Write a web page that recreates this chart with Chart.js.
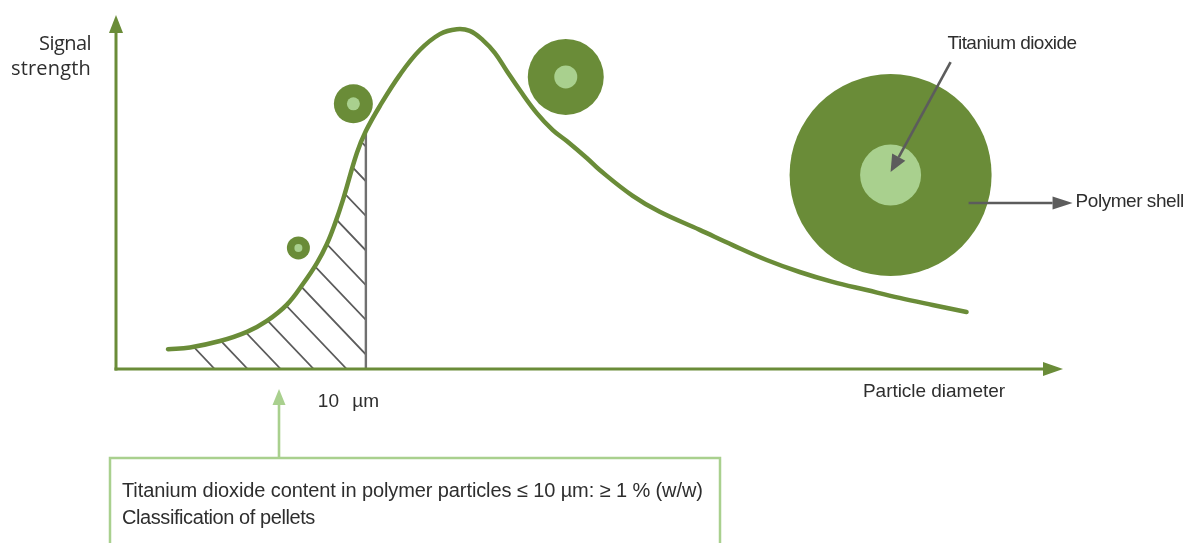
<!DOCTYPE html>
<html>
<head>
<meta charset="utf-8">
<script src="https://cdn.jsdelivr.net/npm/chart.js@4.4.1/dist/chart.umd.min.js"></script>
<style>
  html, body { margin: 0; padding: 0; background: #ffffff; overflow: hidden; }
  #wrap { position: relative; width: 1186px; height: 543px; }
</style>
</head>
<body>
<div id="wrap"><canvas id="chart" width="1186" height="543"></canvas></div>
<script>
// ---------------- data ----------------
// particle diameter in µm (schematic axis), signal strength in % of axis height
const diameter = [2.08, 2.96, 4.16, 5.24, 6.04, 6.84, 7.48, 8.04, 8.44, 8.76, 9.08, 9.64, 10.0,
                  10.56, 11.36, 12.16, 12.96, 13.64, 14.16, 14.68, 15.16, 15.64, 16.16, 16.84,
                  17.48, 18.04, 18.84, 19.36, 20.68, 21.76, 23.36, 24.68, 26.04, 27.36, 28.68,
                  30.04, 31.36, 32.68, 34.04];
const signal   = [5.6, 6.1, 7.9, 10.5, 13.6, 18.2, 24.0, 29.9, 35.3, 41.0, 47.7, 61.0, 67.2,
                  74.3, 83.1, 90.1, 94.6, 96.0, 95.5, 92.9, 89.3, 84.2, 78.8, 72.3,
                  67.5, 64.4, 59.6, 56.2, 48.9, 44.4, 39.3, 35.0, 30.8, 27.4, 24.6,
                  22.3, 20.1, 18.1, 16.1];
const thresholdDiameter = 10;          // µm, end of hatched area
const hatchFrom = 3.0;                 // µm, where the hatching starts
// illustrative particles sitting along the curve
const particleDiameter = [7.3, 9.5, 18.0, 31.0];
const particleSignal   = [34.2, 74.9, 82.5, 54.8];
// text labels
const yAxisLabel = ['Signal', 'strength'];
const xAxisLabel = 'Particle diameter';
const thresholdLabel = '10 µm';
const coreLabel = 'Titanium dioxide';
const shellLabel = 'Polymer shell';
const boxLines = ['Titanium dioxide content in polymer particles ≤ 10 µm: ≥ 1 % (w/w)',
                  'Classification of pellets'];

// ---------------- styles ----------------
const GREEN = '#6a8c38';
const LIGHT = '#a9d08e';
const GREY = '#5c5c5c';
const TEXT = '#2e2e2e';
const shellRadius = [11.5, 19.5, 38, 101];
const coreRadius  = [4, 6.5, 11.5, 30.5];

function arrow(ctx, x1, y1, x2, y2, color, lw, headLen, headW) {
  const ang = Math.atan2(y2 - y1, x2 - x1);
  const bx = x2 - headLen * Math.cos(ang), by = y2 - headLen * Math.sin(ang);
  ctx.strokeStyle = color; ctx.lineWidth = lw; ctx.lineCap = 'butt';
  ctx.beginPath(); ctx.moveTo(x1, y1); ctx.lineTo(bx, by); ctx.stroke();
  ctx.fillStyle = color;
  ctx.beginPath();
  ctx.moveTo(x2, y2);
  ctx.lineTo(bx + headW / 2 * Math.sin(ang), by - headW / 2 * Math.cos(ang));
  ctx.lineTo(bx - headW / 2 * Math.sin(ang), by + headW / 2 * Math.cos(ang));
  ctx.closePath(); ctx.fill();
}

function label(ctx, str, x, y, size, align, width, family, wordGap) {
  ctx.font = size + 'px ' + (family || '"Liberation Sans", Arial, sans-serif');
  ctx.textAlign = align; ctx.textBaseline = 'middle'; ctx.fillStyle = TEXT;
  const hasLS = 'letterSpacing' in ctx;
  if (hasLS) ctx.letterSpacing = '0px';
  if ('wordSpacing' in ctx) ctx.wordSpacing = (wordGap || 0) + 'px';
  if (width && hasLS) {
    const w0 = ctx.measureText(str).width;
    ctx.letterSpacing = ((width - w0) / str.length).toFixed(2) + 'px';
  }
  ctx.fillText(str, x, y);
  if (hasLS) ctx.letterSpacing = '0px';
  if ('wordSpacing' in ctx) ctx.wordSpacing = '0px';
}

const decor = {
  id: 'decor',
  beforeDatasetsDraw(chart) {
    const { ctx, chartArea: a, scales: { x, y } } = chart;
    const line = chart.getDatasetMeta(0).dataset;
    line.updateControlPoints(a, 'x');
    const pts = line.points;
    const base = y.getPixelForValue(0);
    const x10 = x.getPixelForValue(thresholdDiameter);
    const areaPath = () => {
      ctx.beginPath();
      line.path(ctx);
      ctx.lineTo(pts[pts.length - 1].x, base);
      ctx.lineTo(pts[0].x, base);
      ctx.closePath();
    };
    // hatching under the curve up to 10 µm
    ctx.save();
    areaPath(); ctx.clip();
    const hx = x.getPixelForValue(hatchFrom);
    ctx.beginPath(); ctx.rect(hx, a.top, x10 - hx, base - a.top); ctx.clip();
    ctx.strokeStyle = GREY; ctx.lineWidth = 1.8;
    ctx.beginPath();
    for (let bx = a.left - 0.3 - 33 * 2; bx < x10 + 500; bx += 33) {
      ctx.moveTo(bx, base); ctx.lineTo(bx - 400, base - 420);
    }
    ctx.stroke();
    ctx.restore();
    // vertical limit line at 10 µm
    ctx.save();
    areaPath(); ctx.clip();
    ctx.strokeStyle = '#707070'; ctx.lineWidth = 2.4;
    ctx.beginPath(); ctx.moveTo(x10, base); ctx.lineTo(x10, a.top); ctx.stroke();
    ctx.restore();

    // axes with arrow heads
    ctx.save();
    arrow(ctx, a.left, base + 1.5, a.left, a.top, GREEN, 3, 18, 14);
    arrow(ctx, a.left - 1.5, base, a.right, base, GREEN, 3, 20, 14);
    ctx.restore();
  },
  afterDatasetsDraw(chart) {
    const { ctx, chartArea: a, scales: { x, y } } = chart;
    const base = y.getPixelForValue(0);
    const x10 = x.getPixelForValue(thresholdDiameter);
    const big = chart.getDatasetMeta(2).data[3];
    ctx.save();
    // annotation arrows for the large particle
    arrow(ctx, big.x + 60, big.y - 113, big.x, big.y - 3, GREY, 2.6, 17, 15);
    arrow(ctx, big.x + 78, big.y + 28, big.x + 182, big.y + 28, GREY, 2.6, 20, 13);
    label(ctx, coreLabel, big.x + 57, 44, 19, 'left', 129);
    label(ctx, shellLabel, big.x + 185, big.y + 27, 19, 'left', 108);

    // axis labels
    label(ctx, yAxisLabel[0], a.left - 25, 44, 20, 'right', 52, '"Open Sans", sans-serif');
    label(ctx, yAxisLabel[1], a.left - 25, 69, 20, 'right', 80, '"Open Sans", sans-serif');
    label(ctx, xAxisLabel, a.right - 58, base + 23, 19, 'right', 142);
    label(ctx, thresholdLabel, x10 - 48, base + 33, 19, 'left', 0, null, 8);

    // light green pointer and box
    const boxTop = 458, boxLeft = 110, boxRight = 720;
    arrow(ctx, 279, boxTop, 279, 389, LIGHT, 2.6, 16, 13);
    ctx.strokeStyle = LIGHT; ctx.lineWidth = 2.5;
    ctx.strokeRect(boxLeft, boxTop, boxRight - boxLeft, 120);
    label(ctx, boxLines[0], boxLeft + 12, 491, 20, 'left', 581);
    label(ctx, boxLines[1], boxLeft + 12, 518, 20, 'left', 193);
    ctx.restore();
  }
};

const pts = (xs, ys) => xs.map((v, i) => ({ x: v, y: ys[i] }));

new Chart(document.getElementById('chart'), {
  type: 'line',
  data: {
    datasets: [
      {
        label: 'Signal',
        data: pts(diameter, signal),
        borderColor: GREEN,
        borderWidth: 4.5,
        borderCapStyle: 'round',
        tension: 0.4,
        pointRadius: 0,
        fill: false,
        clip: false
      },
      {
        label: 'Titanium dioxide',
        data: pts(particleDiameter, particleSignal),
        showLine: false,
        pointRadius: coreRadius,
        pointBackgroundColor: LIGHT,
        pointBorderWidth: 0,
        clip: false
      },
      {
        label: 'Polymer shell',
        data: pts(particleDiameter, particleSignal),
        showLine: false,
        pointRadius: shellRadius,
        pointBackgroundColor: GREEN,
        pointBorderWidth: 0,
        clip: false
      }
    ]
  },
  options: {
    responsive: false,
    animation: false,
    events: [],
    layout: { autoPadding: false, padding: { left: 116, right: 123, top: 15, bottom: 174 } },
    scales: {
      x: { type: 'linear', min: 0, max: 37.9, display: false },
      y: { type: 'linear', min: 0, max: 100, display: false }
    },
    plugins: { legend: { display: false }, tooltip: { enabled: false }, title: { display: false } }
  },
  plugins: [decor]
});
</script>
</body>
</html>
